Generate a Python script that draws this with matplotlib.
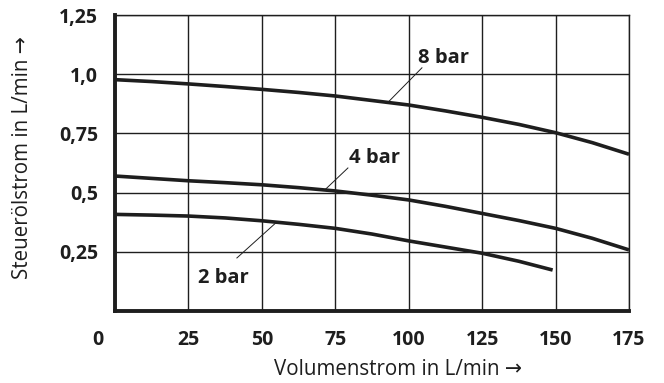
import numpy as np
import matplotlib.pyplot as plt
import matplotlib.transforms as mtransforms

plt.rcParams['font.family'] = ['Open Sans', 'DejaVu Sans']

# Volumenstrom (L/min) and Steuerölstrom (L/min) per pilot pressure
x_full = [0, 12.5, 25, 37.5, 50, 62.5, 75, 87.5, 100, 112.5, 125, 137.5, 150, 162.5, 175]
y_8bar = [0.977, 0.969, 0.959, 0.948, 0.936, 0.923, 0.908, 0.889, 0.870,
          0.845, 0.818, 0.788, 0.753, 0.711, 0.662]
y_4bar = [0.570, 0.560, 0.550, 0.542, 0.533, 0.521, 0.507, 0.489, 0.469,
          0.442, 0.412, 0.382, 0.349, 0.307, 0.258]
x_2bar = [0, 12.5, 25, 37.5, 50, 62.5, 75, 87.5, 100, 112.5, 125, 137.5, 149]
y_2bar = [0.408, 0.405, 0.401, 0.393, 0.381, 0.366, 0.349, 0.325, 0.296,
          0.270, 0.244, 0.210, 0.173]

xticks = [0, 25, 50, 75, 100, 125, 150, 175]
yticks = [0.25, 0.5, 0.75, 1.0, 1.25]
ytick_labels = ["0,25", "0,5", "0,75", "1,0", "1,25"]

# curve labels: text position, leader start, leader end (on the curve)
labels = [
    ("8 bar", (112, 1.07), (104.5, 1.027), (93, 0.882)),
    ("4 bar", (88.4, 0.646), (79.3, 0.604), (71.4, 0.511)),
    ("2 bar", (37, 0.139), (41.5, 0.224), (55.1, 0.376)),
]

ink = "#1e1e1e"

fig = plt.figure(figsize=(6.64, 3.83), dpi=100)
ax = fig.add_axes([0.1732, 0.188, 0.7741, 0.7728])

ax.set_xlim(0, 175)
ax.set_ylim(0, 1.25)
ax.set_xticks(xticks)
ax.set_xticklabels([str(v) for v in xticks])
ax.set_yticks(yticks)
ax.set_yticklabels(ytick_labels)
ax.tick_params(length=0, colors=ink, labelsize=14)
ax.tick_params(axis="x", pad=14)
ax.tick_params(axis="y", pad=12)
for lab in ax.get_xticklabels() + ax.get_yticklabels():
    lab.set_fontweight("bold")

# shift the "0" away from the y axis
first = ax.get_xticklabels()[0]
first.set_transform(first.get_transform() +
                    mtransforms.ScaledTranslation(-17 / 100, 0, fig.dpi_scale_trans))

ax.grid(True, color=ink, linewidth=1.0)
ax.set_axisbelow(True)
for side in ("top", "right"):
    ax.spines[side].set_linewidth(1.0)
    ax.spines[side].set_color(ink)
for side in ("left", "bottom"):
    ax.spines[side].set_linewidth(2.8)
    ax.spines[side].set_color(ink)

ax.plot(x_full, y_8bar, color=ink, linewidth=2.6, solid_capstyle="butt")
ax.plot(x_full, y_4bar, color=ink, linewidth=2.6, solid_capstyle="butt")
ax.plot(x_2bar, y_2bar, color=ink, linewidth=2.6, solid_capstyle="butt")

for text, pos, p0, p1 in labels:
    ax.plot([p0[0], p1[0]], [p0[1], p1[1]], color=ink, linewidth=0.7)
    ax.text(pos[0], pos[1], text, ha="center", va="center",
            fontsize=14.5, fontweight="bold", color=ink)

ax.set_xlabel("Volumenstrom in L/min →", fontsize=14.8, color=ink, labelpad=6)
ax.set_ylabel("Steuerölstrom in L/min →", fontsize=14.8, color=ink, labelpad=19)
ax.xaxis.label.set_x(0.551)
ax.yaxis.label.set_y(0.52)

fig.savefig("out.png", dpi=100)
